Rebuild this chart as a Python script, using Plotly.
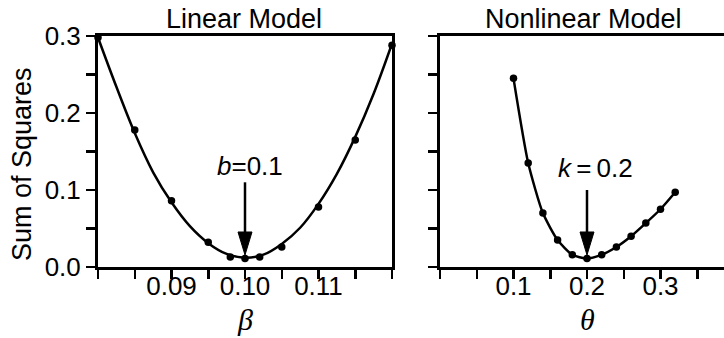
import plotly.graph_objects as go

# ---- data ----
beta_pts = [0.08, 0.085, 0.09, 0.095, 0.098, 0.10, 0.102, 0.105, 0.11, 0.115, 0.12]
ss_lin_pts = [0.298, 0.178, 0.086, 0.032, 0.013, 0.011, 0.013, 0.026, 0.078, 0.165, 0.288]

beta_curve = [0.08, 0.0825, 0.085, 0.0875, 0.09, 0.0925, 0.095, 0.0975, 0.10,
              0.1025, 0.105, 0.1075, 0.11, 0.1125, 0.115, 0.1175, 0.12]
ss_lin_curve = [0.298, 0.234, 0.174, 0.123, 0.084, 0.053, 0.031, 0.017, 0.012,
                0.016, 0.030, 0.051, 0.082, 0.121, 0.169, 0.225, 0.290]

theta_pts = [0.10, 0.12, 0.14, 0.16, 0.18, 0.20, 0.22, 0.24, 0.26, 0.28, 0.30, 0.32]
ss_nl_pts = [0.245, 0.135, 0.070, 0.035, 0.016, 0.011, 0.016, 0.026, 0.040, 0.057, 0.075, 0.097]

true_params = [0.1, 0.2]          # b and k
arrow_tip = [0.0156, 0.0156]
arrow_tail = [0.110, 0.100]
label_pos_x = [0.1007, 0.2122]
label_pos_y = [0.131, 0.1286]
labels = ["<i>b</i>=0.1", "<i>k</i>\u2009=\u20090.2"]

y_ticks = [0, 0.05, 0.1, 0.15, 0.2, 0.25, 0.3]
y_labels = ["0.0", "", "0.1", "", "0.2", "", "0.3"]
x1_ticks = [0.08, 0.085, 0.09, 0.095, 0.10, 0.105, 0.11, 0.115, 0.12]
x1_labels = ["", "", "0.09", "", "0.10", "", "0.11", "", ""]
x2_ticks = [0, 0.05, 0.1, 0.15, 0.2, 0.25, 0.3, 0.35]
x2_labels = ["", "", "0.1", "", "0.2", "", "0.3", ""]

# ---- layout geometry ----
W, H = 724, 338
ML, MR, MT, MB = 0, 0, 36, 71
plot_h = H - MT - MB
d1 = [98 / W, 392 / W]
d2 = [440 / W, 1.0]
x1_range = [0.08, 0.12]
x2_range = [0, 0.3864]
y_range = [0, 0.3]

x1_per_px = (x1_range[1] - x1_range[0]) / ((d1[1] - d1[0]) * W)
x2_per_px = (x2_range[1] - x2_range[0]) / ((d2[1] - d2[0]) * W)
y_per_px = (y_range[1] - y_range[0]) / plot_h
head_len_px, head_w_px = 23, 14

fig = go.Figure()
BLACK = "#000000"

fig.add_trace(go.Scatter(x=beta_curve, y=ss_lin_curve, mode="lines",
                         line=dict(color=BLACK, width=2.5, shape="spline", smoothing=1.0),
                         xaxis="x", yaxis="y", cliponaxis=False, hoverinfo="skip"))
fig.add_trace(go.Scatter(x=beta_pts, y=ss_lin_pts, mode="markers",
                         marker=dict(color=BLACK, size=7.5),
                         xaxis="x", yaxis="y", cliponaxis=False))
fig.add_trace(go.Scatter(x=theta_pts, y=ss_nl_pts, mode="lines+markers",
                         line=dict(color=BLACK, width=2.5, shape="spline", smoothing=0.6),
                         marker=dict(color=BLACK, size=7.5),
                         xaxis="x2", yaxis="y2", cliponaxis=False))

# arrows
for i, (xa, ya) in enumerate([("x", "y"), ("x2", "y2")]):
    xpp = x1_per_px if i == 0 else x2_per_px
    p = true_params[i]
    tip = arrow_tip[i]
    base = tip + head_len_px * y_per_px
    half = head_w_px / 2 * xpp
    fig.add_trace(go.Scatter(x=[p, p], y=[base, arrow_tail[i]], mode="lines",
                             line=dict(color=BLACK, width=2.5),
                             xaxis=xa, yaxis=ya, hoverinfo="skip"))
    fig.add_trace(go.Scatter(x=[p - half, p + half, p, p - half],
                             y=[base, base, tip, base], mode="lines",
                             fill="toself", fillcolor=BLACK,
                             line=dict(color=BLACK, width=1),
                             xaxis=xa, yaxis=ya, hoverinfo="skip"))

axis_common = dict(showgrid=False, zeroline=False, showline=True, linecolor=BLACK,
                   linewidth=3, ticks="outside", ticklen=9, tickwidth=2.5,
                   tickcolor=BLACK, tickfont=dict(family="Liberation Sans", size=26, color=BLACK))

fig.update_layout(
    width=W, height=H,
    margin=dict(l=ML, r=MR, t=MT, b=MB, autoexpand=False),
    paper_bgcolor="white", plot_bgcolor="white",
    showlegend=False,
    xaxis=dict(domain=d1, range=x1_range, tickmode="array", tickvals=x1_ticks,
               ticktext=x1_labels, mirror=True, anchor="y", automargin=False,
               ticklabelstandoff=-15, **axis_common),
    yaxis=dict(domain=[0, 1], range=y_range, tickmode="array", tickvals=y_ticks,
               ticktext=y_labels, mirror=True, anchor="x", automargin=False, **axis_common),
    xaxis2=dict(domain=d2, range=x2_range, tickmode="array", tickvals=x2_ticks,
                ticktext=x2_labels, mirror=True, anchor="y2", automargin=False,
                ticklabelstandoff=-15, **axis_common),
    yaxis2=dict(domain=[0, 1], range=y_range, tickmode="array", tickvals=y_ticks,
                ticktext=[""] * len(y_ticks), mirror=False, anchor="x2", automargin=False,
                **axis_common),
)

ann = []
title_font = dict(family="Liberation Sans", size=27, color=BLACK)
ann.append(dict(text="Linear Model", x=244 / W, y=(H - MB - 19) / plot_h, xref="paper",
                yref="paper", showarrow=False, font=title_font, xanchor="center", yanchor="middle"))
ann.append(dict(text="Nonlinear Model", x=583 / W, y=(H - MB - 19) / plot_h, xref="paper",
                yref="paper", showarrow=False, font=title_font, xanchor="center", yanchor="middle"))
ann.append(dict(text="Sum of Squares", x=22 / W, y=(H - MB - 164) / plot_h, xref="paper",
                yref="paper", showarrow=False, textangle=-90,
                font=dict(family="Liberation Sans", size=27, color=BLACK),
                xanchor="center", yanchor="middle"))
sym_font = dict(family="Liberation Serif", size=30, color=BLACK)
ann.append(dict(text="<i>β</i>", x=245 / W, y=(H - MB - 319) / plot_h, xref="paper",
                yref="paper", showarrow=False, font=sym_font, xanchor="center", yanchor="middle"))
ann.append(dict(text="<i>θ</i>", x=587 / W, y=(H - MB - 319) / plot_h, xref="paper",
                yref="paper", showarrow=False, font=sym_font, xanchor="center", yanchor="middle"))
for i, (xa, ya) in enumerate([("x", "y"), ("x2", "y2")]):
    ann.append(dict(text=labels[i], x=label_pos_x[i], y=label_pos_y[i], xref=xa, yref=ya,
                    showarrow=False, font=dict(family="Liberation Sans", size=26, color=BLACK),
                    xanchor="center", yanchor="middle"))
fig.update_layout(annotations=ann)

fig.write_html("out.html",
               config={"displayModeBar": False, "staticPlot": True},
               post_script="document.body.style.margin='0';document.body.style.overflow='hidden';")
